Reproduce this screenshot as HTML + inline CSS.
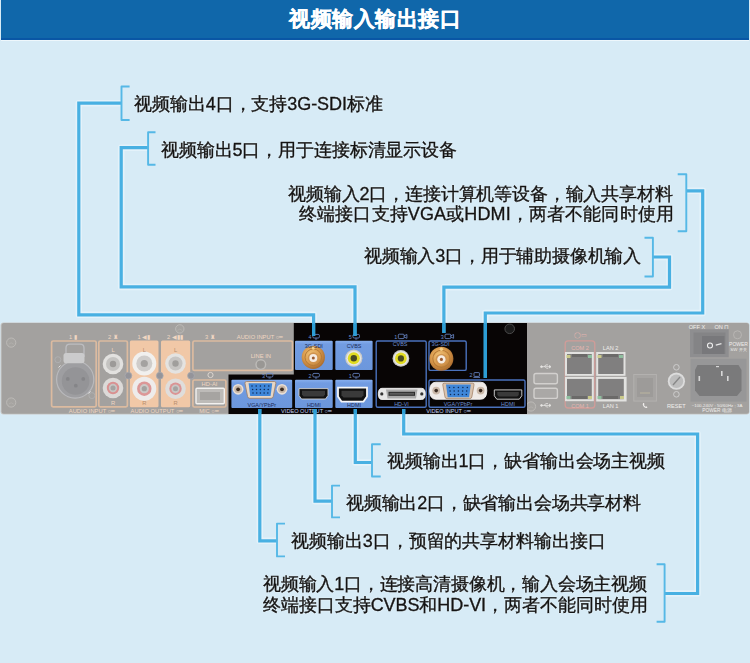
<!DOCTYPE html>
<html><head><meta charset="utf-8">
<style>
html,body{margin:0;padding:0}
body{width:750px;height:663px;overflow:hidden;position:relative;background:#d7ebf6;font-family:"Liberation Sans",sans-serif}
.t{position:absolute;font-size:18px;line-height:24px;color:#141414;white-space:nowrap;-webkit-text-stroke:0.35px #141414;text-shadow:0 0 1.2px #f4fafd,0 0 1.2px #f4fafd;will-change:transform}
#title{position:absolute;left:1px;top:0;width:748px;height:38px;background:#1067aa;border-bottom:2px solid #0956a5;box-shadow:0 1px 0 #eef7fc}
#title div{position:absolute;left:0;width:748px;top:6.3px;text-align:center;color:#fff;font-weight:bold;font-size:21.4px;line-height:26px;letter-spacing:0.55px;text-indent:0.55px;-webkit-text-stroke:0.3px #fff}
svg{position:absolute;left:0;top:0}
</style></head><body>
<div id="title"><div>视频输入输出接口</div></div>
<svg width="750" height="663" viewBox="0 0 750 663">
<defs><radialGradient id="gold" cx="0.42" cy="0.38" r="0.65"><stop offset="0" stop-color="#f3c77c"/><stop offset="0.55" stop-color="#d99a4c"/><stop offset="1" stop-color="#a8692c"/></radialGradient>
<linearGradient id="bluebox" x1="0" y1="0" x2="0" y2="1"><stop offset="0" stop-color="#88afee"/><stop offset="0.12" stop-color="#729ce2"/><stop offset="1" stop-color="#6c97dc"/></linearGradient></defs>
<g fill="none" stroke="#e4f2fa" stroke-width="6.5" stroke-linejoin="round">
<path d="M121 103.2H78.8V314.8H313.6V336"/>
<path d="M148 147.7H121.2V286.9H355V336"/>
<path d="M653 257H669.5V287.2H443.9V333"/>
<path d="M686 190.8H702.7V313H485.3V378"/>
<path d="M259.8 409V540.8H277"/>
<path d="M315 409V501.2H332"/>
<path d="M355.3 409V462.5H372"/>
<path d="M403.7 409V434H697.6V593.5H665"/>
</g>
<!-- device -->
<g id="dev">
<rect x="0.5" y="322.5" width="749" height="92" rx="3" fill="#c9c8c6"/>
<rect x="1.5" y="323" width="747.5" height="90.8" rx="2.5" fill="#a3a19f"/>
<!-- left screws -->
<g fill="#a6a4a1" stroke="#bebcb9" stroke-width="0.9">
<circle cx="11.2" cy="342.6" r="4.6"/><circle cx="11.2" cy="402.5" r="4.6"/>
<circle cx="179.8" cy="328.9" r="4.2"/>
<circle cx="531" cy="406.5" r="4.6"/>
</g>
<g stroke="#b4b2af" stroke-width="0.7" fill="none"><path d="M8.8 344.2Q11.2 341.5 13.6 344.2M8.8 404.1Q11.2 401.4 13.6 404.1M177.5 330.4Q179.8 327.9 182.1 330.4M528.6 408.1Q531 405.4 533.4 408.1"/></g>
<!-- tan outlines -->
<g fill="none" stroke="#dcbba0" stroke-width="1.7">
<rect x="51.6" y="341" width="44.6" height="65.8" rx="1.5"/>
<rect x="98.8" y="341" width="28.6" height="65.8" rx="1.5"/>
<rect x="192.9" y="341" width="99.6" height="29.4" rx="1.5"/>
<rect x="192.9" y="380" width="33" height="27" rx="1.5"/>
</g>
<g fill="#f1c8a7">
<rect x="129.9" y="340.6" width="28.6" height="66.6" rx="1.5"/>
<rect x="161" y="340.6" width="29.2" height="66.6" rx="1.5"/>
</g>
<!-- XLR -->
<path d="M66 357V348Q66 344.2 70 344.2H80Q84 344.2 84 348V357" fill="none" stroke="#bdbdc0" stroke-width="1.3"/>
<circle cx="75.2" cy="379.5" r="18.6" fill="#9e9ea1" stroke="#b9b9bc" stroke-width="1.2"/>
<circle cx="75.6" cy="381" r="13.8" fill="#949497"/>
<path d="M63.5 355.5Q63.5 353 66 353H82Q84.5 353 84.5 355.5V361Q84.5 363.2 82 363.2H66Q63.5 363.2 63.5 361Z" fill="#cbcbcc"/>
<circle cx="67.8" cy="378.9" r="1.9" fill="#858588"/><circle cx="83.3" cy="378.9" r="1.9" fill="#858588"/><circle cx="75.8" cy="385.7" r="1.9" fill="#858588"/>
<circle cx="57.9" cy="359.7" r="3" fill="none" stroke="#b1b1b3" stroke-width="0.8"/>
<circle cx="91.9" cy="395.6" r="3" fill="none" stroke="#b1b1b3" stroke-width="0.8"/>
<path d="M58.5 367.5L60.5 365.5M88.5 393.5L90.5 391.3" stroke="#e0e0e0" stroke-width="1"/>
<!-- RCA jacks audio -->
<g>
<circle cx="113" cy="364" r="10.3" fill="#e2e1df"/><circle cx="113" cy="364" r="7" fill="#c4c3c1"/><circle cx="113" cy="364" r="3.2" fill="#9c9a98"/>
<circle cx="113" cy="388" r="10.3" fill="#dcdad8"/><circle cx="113" cy="388" r="6.2" fill="#d99191"/><circle cx="113" cy="388" r="4.2" fill="#c7c5c3"/><circle cx="113" cy="388" r="2.5" fill="#a5a3a1"/>
<circle cx="144.3" cy="363.5" r="12" fill="#f1f0ee"/><circle cx="144.3" cy="363.5" r="8" fill="#cfcdcb"/><circle cx="144.3" cy="363.5" r="3.6" fill="#a4a2a0"/>
<circle cx="144.3" cy="388.7" r="12" fill="#eeeceb"/><circle cx="144.3" cy="388.7" r="7.2" fill="#dc9797"/><circle cx="144.3" cy="388.7" r="4.6" fill="#cbc9c7"/><circle cx="144.3" cy="388.7" r="2.6" fill="#a4a2a0"/>
<circle cx="175.5" cy="363.5" r="10.3" fill="#e4e3e1"/><circle cx="175.5" cy="363.5" r="7" fill="#c7c5c3"/><circle cx="175.5" cy="363.5" r="3.2" fill="#a09e9c"/>
<circle cx="175.5" cy="388.7" r="10.3" fill="#dfdddb"/><circle cx="175.5" cy="388.7" r="6.2" fill="#db9494"/><circle cx="175.5" cy="388.7" r="4.2" fill="#c9c7c5"/><circle cx="175.5" cy="388.7" r="2.5" fill="#a5a3a1"/>
</g>
<g fill="#94949a" stroke="#a9a9ae" stroke-width="0.8">
<circle cx="128.4" cy="375.7" r="3.4"/><circle cx="159.8" cy="375.7" r="3.4"/><circle cx="191" cy="375.7" r="3.4"/>
</g>
<!-- line in jack -->
<circle cx="260.8" cy="364.6" r="4.8" fill="#999794" stroke="#bdbbb8" stroke-width="1.4"/>
<!-- HD-AI usb -->
<rect x="196" y="388.3" width="28.3" height="15.5" rx="1" fill="#bdbbb8" stroke="#f2f1ef" stroke-width="1.4"/>
<rect x="200" y="392" width="20" height="8" fill="#a6a4a1"/>
<circle cx="210.5" cy="375" r="2.6" fill="none" stroke="#e8e0d8" stroke-width="0.8"/>
<!-- tan labels -->
<g font-family="Liberation Sans" font-size="5.8" fill="#efd6c2" text-anchor="middle">
<text x="73" y="339">1 ▮</text><text x="113" y="339">2 ♜</text><text x="144" y="339">1 ◀▮</text><text x="175" y="339">2 ◀▮▮</text><text x="210" y="339">3 ♜</text>
<text x="113" y="352">L</text><text x="113" y="404.5">R</text><g fill="#b98d6d"><text x="144.3" y="352">L</text><text x="144.3" y="404.5">R</text><text x="175.5" y="352">L</text><text x="175.5" y="404.5">R</text></g>
<text x="92" y="412.5">AUDIO  INPUT  ○━</text><text x="157" y="412.5">AUDIO  OUTPUT  ○━</text><text x="209" y="412.5">MIC  ○━</text>
<text x="260" y="338.5">AUDIO  INPUT  ○━</text><text x="260.8" y="357.5">LINE IN</text><text x="209.5" y="386">HD-AI</text>
</g>
</g>
<!-- black section -->
<path d="M293.8 323H527V414H228.5V374.6H293.8Z" fill="#080505"/>
<g fill="url(#bluebox)">
<rect x="295" y="340.7" width="37.7" height="29.4" rx="1"/>
<rect x="335.3" y="340.7" width="37.3" height="29.4" rx="1"/>
<rect x="231.4" y="379.7" width="60.8" height="28.2" rx="1"/>
<rect x="295" y="379.7" width="37.7" height="28.2" rx="1"/>
<rect x="335.3" y="379.7" width="37.3" height="28.2" rx="1"/>
</g>
<g fill="none" stroke="#4a72bd" stroke-width="1.4">
<rect x="376.2" y="341" width="50" height="66.2" rx="1.5"/>
<rect x="429" y="341" width="37.2" height="29.4" rx="1.5"/>
<rect x="429" y="380" width="96" height="27.2" rx="1.5"/>
</g>
<circle cx="509.7" cy="328.8" r="4.8" fill="#1a1a1a" stroke="#4a4a4a" stroke-width="1"/>
<!-- BNC out -->
<circle cx="313.3" cy="357.3" r="11.6" fill="url(#gold)"/>
<circle cx="313.3" cy="357.3" r="8.30" fill="none" stroke="#b57a36" stroke-width="1.00"/>
<circle cx="313.3" cy="348.10" r="1.60" fill="#f4cf86"/>
<circle cx="313.3" cy="357.90" r="5.60" fill="#d09450"/>
<circle cx="313.3" cy="357.90" r="4.00" fill="#f6ece2"/>
<circle cx="313.3" cy="357.90" r="1.50" fill="#9a5a30"/>
<!-- BNC in -->
<circle cx="441.4" cy="358.8" r="12" fill="url(#gold)"/>
<circle cx="441.4" cy="358.8" r="8.59" fill="none" stroke="#b57a36" stroke-width="1.03"/>
<circle cx="441.4" cy="349.28" r="1.66" fill="#f4cf86"/>
<circle cx="441.4" cy="359.42" r="5.79" fill="#d09450"/>
<circle cx="441.4" cy="359.42" r="4.14" fill="#f6ece2"/>
<circle cx="441.4" cy="359.42" r="1.55" fill="#9a5a30"/>
<!-- RCA yellow -->
<circle cx="353.8" cy="358.2" r="8.6" fill="#c9c9c7"/><circle cx="353.8" cy="358.2" r="7.4" fill="#e6e6e4"/><circle cx="353.8" cy="358.2" r="6" fill="#e2dc22"/><circle cx="353.8" cy="358.2" r="3.2" fill="#4a4a22"/>
<circle cx="400.9" cy="358.4" r="8.4" fill="#c9c9c7"/><circle cx="400.9" cy="358.4" r="7.2" fill="#e6e6e4"/><circle cx="400.9" cy="358.4" r="5.8" fill="#e2dc22"/><circle cx="400.9" cy="358.4" r="3.1" fill="#4a4a22"/>
<!-- VGA out -->
<circle cx="238.1" cy="389.3" r="5.4" fill="#e9dfd6"/><circle cx="238.1" cy="389.3" r="3.8" fill="#c8b6a6"/><circle cx="238.1" cy="389.3" r="1.9" fill="#3a2a20"/>
<circle cx="282" cy="389.3" r="5.4" fill="#e9dfd6"/><circle cx="282" cy="389.3" r="3.8" fill="#c8b6a6"/><circle cx="282" cy="389.3" r="1.9" fill="#3a2a20"/>
<path d="M246.5 381.5H274.3Q276.3 381.5 275.8 383.5L273.2 396.6Q272.8 398.3 271 398.3H249.8Q248 398.3 247.6 396.6L245 383.5Q244.6 381.5 246.5 381.5Z" fill="#e6d6c6" stroke="#a07e62" stroke-width="0.8"/>
<path d="M248.6 383.2H272.2L270.6 396H250.2Z" fill="#3f86d8"/>
<g fill="#0f2a55"><circle cx="252.0" cy="386.0" r="0.75"/><circle cx="256.2" cy="386.0" r="0.75"/><circle cx="260.4" cy="386.0" r="0.75"/><circle cx="264.6" cy="386.0" r="0.75"/><circle cx="268.8" cy="386.0" r="0.75"/><circle cx="252.6" cy="389.5" r="0.75"/><circle cx="256.5" cy="389.5" r="0.75"/><circle cx="260.4" cy="389.5" r="0.75"/><circle cx="264.3" cy="389.5" r="0.75"/><circle cx="268.2" cy="389.5" r="0.75"/><circle cx="253.0" cy="393.0" r="0.75"/><circle cx="256.7" cy="393.0" r="0.75"/><circle cx="260.4" cy="393.0" r="0.75"/><circle cx="264.1" cy="393.0" r="0.75"/><circle cx="267.8" cy="393.0" r="0.75"/></g>
<!-- VGA in -->
<path d="M436 382.2H480.5Q486.8 382.2 486.8 390.7Q486.8 399.3 480.5 399.3H436Q429.7 399.3 429.7 390.7Q429.7 382.2 436 382.2Z" fill="#efeae6" stroke="#ffffff" stroke-width="0.8"/>
<circle cx="436.2" cy="390.6" r="3.9" fill="#cbb9a9"/><circle cx="436.2" cy="390.6" r="1.8" fill="#3a2a20"/>
<circle cx="480.6" cy="390.6" r="3.9" fill="#cbb9a9"/><circle cx="480.6" cy="390.6" r="1.8" fill="#3a2a20"/>
<path d="M444.2 383.2H472.6Q474.4 383.2 474 385L471.8 397Q471.5 398.6 469.8 398.6H447Q445.3 398.6 445 397L442.8 385Q442.4 383.2 444.2 383.2Z" fill="#d9c3ae" stroke="#9c7a5e" stroke-width="0.7"/>
<path d="M446 384.6H470.8L469.1 397.3H447.7Z" fill="#3f86d8"/>
<g fill="#0f2a55"><circle cx="449.5" cy="387.6" r="0.75"/><circle cx="453.9" cy="387.6" r="0.75"/><circle cx="458.4" cy="387.6" r="0.75"/><circle cx="462.9" cy="387.6" r="0.75"/><circle cx="467.3" cy="387.6" r="0.75"/><circle cx="450.1" cy="391.0" r="0.75"/><circle cx="454.2" cy="391.0" r="0.75"/><circle cx="458.4" cy="391.0" r="0.75"/><circle cx="462.6" cy="391.0" r="0.75"/><circle cx="466.7" cy="391.0" r="0.75"/><circle cx="450.5" cy="394.4" r="0.75"/><circle cx="454.4" cy="394.4" r="0.75"/><circle cx="458.4" cy="394.4" r="0.75"/><circle cx="462.4" cy="394.4" r="0.75"/><circle cx="466.3" cy="394.4" r="0.75"/></g>
<!-- HDMI -->
<path d="M299 388.6H328V395.5L325.5 399H301.5L299 395.5Z" fill="#121212" stroke="#d0d0d0" stroke-width="0.9"/>
<path d="M302 390.8H325V394.5L323.5 396.4H303.5L302 394.5Z" fill="#3a3a3a"/>
<path d="M338 387.6H367V396.5L363.5 401.6H341.5L338 396.5Z" fill="#111" stroke="#f6f6f6" stroke-width="1.8"/>
<path d="M341.5 390.8H363.5V395.2L361.5 397.6H343.5L341.5 395.2Z" fill="#3a3a3a"/>
<path d="M494.3 389.9H521.8V395.8L519.3 399.2H496.8L494.3 395.8Z" fill="#121212" stroke="#d8d8d8" stroke-width="0.9"/>
<path d="M497.3 392H518.8V395L517.3 396.6H498.8L497.3 395Z" fill="#3a3a3a"/>
<!-- HD-VI -->
<path d="M382 388.3H421.5Q425.3 388.3 425.3 393.9Q425.3 399.5 421.5 399.5H382Q378.3 399.5 378.3 393.9Q378.3 388.3 382 388.3Z" fill="#e6e6e6" stroke="#fafafa" stroke-width="0.8"/>
<circle cx="381.8" cy="393.9" r="1.6" fill="#333"/><circle cx="421.8" cy="393.9" r="1.6" fill="#333"/>
<path d="M386 389.5H417.5L416 398.5H387.5Z" fill="#a9a9a9"/>
<path d="M388.5 391.8H415V395.8H388.5Z" fill="#2a2a2a"/>
<path d="M389.5 392.8H414V394.8H389.5Z" fill="#5a5a5a"/>
<!-- dark labels in blue boxes -->
<g font-family="Liberation Sans" font-size="5.4" fill="#1a2a55" text-anchor="middle">
<text x="313.8" y="347.5">3G-SDI</text><text x="354" y="347.5">CVBS</text>
<text x="261.8" y="406.5">VGA/YPbPr</text><text x="313.8" y="406.5">HDMI</text><text x="354" y="406.5">HDMI</text>
</g>
<g font-family="Liberation Sans" font-size="5.4" fill="#6d8fd0" text-anchor="middle">
<text x="400" y="346">CVBS</text><text x="440.5" y="346">3G-SDI</text>
<text x="401.5" y="406.3">HD-VI</text><text x="458" y="406.3">VGA/YPbPr</text><text x="508" y="406.3">HDMI</text>
<text x="310" y="339">4</text><text x="350.3" y="339">5</text><text x="263.5" y="378">3</text><text x="310" y="378">2</text><text x="350.3" y="378">1</text>
<text x="395.7" y="338.7">1</text><text x="442.3" y="338.7">3</text><text x="471" y="377">2</text>
</g>
<g font-family="Liberation Sans" font-size="5.6" fill="#c0d0ef" text-anchor="middle">
<text x="306.5" y="413">VIDEO  OUTPUT  ○━</text><text x="448.5" y="413">VIDEO  INPUT  ○━</text>
</g>
<g fill="none" stroke="#6f8ed0" stroke-width="0.8"><rect x="312.8" y="334.4" width="6.6" height="3.6" rx="1.2"/><path d="M315.0 339.0H317.2"/><rect x="352.9" y="334.4" width="6.6" height="3.6" rx="1.2"/><path d="M355.09999999999997 339.0H357.29999999999995"/><rect x="266.3" y="373.4" width="6.6" height="3.6" rx="1.2"/><path d="M268.5 378.0H270.7"/><rect x="312.8" y="373.4" width="6.6" height="3.6" rx="1.2"/><path d="M315.0 378.0H317.2"/><rect x="352.9" y="373.4" width="6.6" height="3.6" rx="1.2"/><path d="M355.09999999999997 378.0H357.29999999999995"/><rect x="398.3" y="334.2" width="5.8" height="4.4" rx="1"/><path d="M404.1 335.8L406.90000000000003 334.5V338.3L404.1 337.0"/><rect x="445" y="334.2" width="5.8" height="4.4" rx="1"/><path d="M450.8 335.8L453.6 334.5V338.3L450.8 337.0"/><rect x="474" y="372.6" width="5.4" height="3.8" rx="0.6"/><path d="M473.4 377.4H480"/></g>
<!-- right section -->
<g fill="#aaa8a6" stroke="#d2d0ce" stroke-width="1.4">
<rect x="534" y="373.5" width="23.4" height="10.2" rx="2"/>
<rect x="534" y="388.2" width="23.4" height="10.2" rx="2"/>
</g>
<rect x="565.2" y="340.8" width="29.6" height="67.2" rx="3" fill="none" stroke="#d19c98" stroke-width="1.3"/>
<g fill="#e2e2e0">
<rect x="565" y="352" width="28.8" height="23.8"/>
<rect x="565" y="376.9" width="28.8" height="24.3"/>
<rect x="596.2" y="352" width="29.3" height="23.8"/>
<rect x="596.2" y="376.9" width="30.4" height="24.6"/>
</g>
<g fill="#807f7f">
<rect x="567" y="354" width="24.8" height="20"/>
<rect x="567" y="378.9" width="24.8" height="20.3"/>
<rect x="598.2" y="354" width="25.3" height="20"/>
<rect x="598.2" y="378.9" width="25.6" height="20.3"/>
</g>
<g fill="#6b6a69"><rect x="572" y="354" width="15" height="3"/><rect x="603" y="354" width="15" height="3"/><rect x="572" y="396" width="15" height="3"/><rect x="603" y="396" width="15" height="3"/></g>
<g fill="#c9c98a"><rect x="566.5" y="355" width="4" height="3"/><rect x="620" y="396" width="4" height="3"/><rect x="588" y="396" width="4" height="3"/><rect x="597.5" y="355" width="4" height="3"/></g>
<g fill="#8fbf9f"><rect x="588" y="355" width="4" height="3"/><rect x="619" y="355" width="4" height="3"/><rect x="566.5" y="396" width="4" height="3"/><rect x="597.5" y="396" width="4" height="3"/></g>
<g transform="translate(545.5,366.7)" stroke="#e6e4e2" stroke-width="0.8" fill="none"><path d="M-4 0H4M-1.5 0L0.5 -1.8H2.5M-0.5 0L1 1.6H2.8"/><circle cx="-4" cy="0" r="0.9" fill="#e6e4e2"/><path d="M4 -1.2L5.5 0L4 1.2Z" fill="#e6e4e2"/></g><g transform="translate(545.5,405.4)" stroke="#e6e4e2" stroke-width="0.8" fill="none"><path d="M-4 0H4M-1.5 0L0.5 -1.8H2.5M-0.5 0L1 1.6H2.8"/><circle cx="-4" cy="0" r="0.9" fill="#e6e4e2"/><path d="M4 -1.2L5.5 0L4 1.2Z" fill="#e6e4e2"/></g>
<!-- phone jack -->
<rect x="633.8" y="374.5" width="22.6" height="26.6" fill="#a6a4a2" stroke="#b3b1af" stroke-width="1"/>
<rect x="637" y="378" width="16" height="19" fill="#9d9b99"/>
<rect x="640" y="392" width="10" height="2" fill="#aca89c"/>
<path d="M643 403.2Q642.2 404.5 643.6 406.4Q645.2 408.2 646.8 408Q647.6 407.6 647.3 407L646.2 406.2L645.4 406.7Q644.3 405.9 643.9 404.8L644.6 404.2L643.9 403Q643.4 402.8 643 403.2Z" fill="#f0eeec"/>
<!-- reset -->
<circle cx="676.4" cy="381.2" r="8.6" fill="#dcdcdc"/>
<circle cx="676.4" cy="381.2" r="6.8" fill="#bdbdbd"/>
<path d="M673 385L680 377" stroke="#888" stroke-width="1.3"/>
<circle cx="676.4" cy="367.3" r="2.8" fill="none" stroke="#d0d0d0" stroke-width="0.9"/>
<circle cx="676.4" cy="394.3" r="2.8" fill="none" stroke="#d0d0d0" stroke-width="0.9"/>
<!-- power switch -->
<rect x="690" y="329.3" width="38.7" height="27.9" fill="#8e8e90"/>
<rect x="693.5" y="332.5" width="32" height="21.5" fill="#848486"/><rect x="702" y="336" width="22.5" height="18" fill="#78787b"/>
<circle cx="710" cy="345.5" r="2.5" fill="none" stroke="#f0f0f0" stroke-width="1.1"/>
<path d="M715.8 345.2L721.5 343.6" stroke="#e8e8e8" stroke-width="1.2"/>
<circle cx="737.5" cy="334.8" r="4" fill="none" stroke="#bcbab8" stroke-width="0.8"/>
<!-- power inlet -->
<rect x="690.5" y="358.7" width="56" height="42.9" fill="#979798"/>
<path d="M697.5 365.1H738.5L741.5 370V390.5L737 395.9H699.5L695 390.5V370Z" fill="#7a7a7b"/>
<g fill="#d8d8d8"><rect x="698.5" y="376" width="1.6" height="5"/><rect x="721" y="371" width="1.6" height="5"/><rect x="727" y="376" width="1.6" height="5"/><rect x="716" y="366" width="3" height="1.2"/></g>
<g font-family="Liberation Sans" font-size="5.6" fill="#f0eeec" text-anchor="middle">

<text x="610.6" y="350">LAN 2</text><text x="610.6" y="407.5">LAN 1</text>
<text x="676.4" y="407.5">RESET</text>
<text x="697" y="328.8">OFF X</text><text x="722" y="328.8">ON ⊓</text>
<text x="738.5" y="345.5" font-size="5">POWER</text><text x="738.5" y="350.5" font-size="4.4">SW 开关</text>
<text x="717" y="407" font-size="4.4">~100-240V ; 50/60Hz ; 3A</text><text x="717" y="412.3" font-size="4.8">POWER 电源</text>
</g>
<g font-family="Liberation Sans" font-size="5.6" fill="#e6b5b0" text-anchor="middle">
<text x="580" y="350">COM 2</text><text x="580" y="407.5">COM 1</text><text x="580.2" y="337">◯▭</text>
</g>

<!-- connector lines -->

<g fill="none" stroke="#48b0e2" stroke-width="3.2">
<path d="M121 103.2H78.8V314.8H313.6V336"/>
<path d="M148 147.7H121.2V286.9H355V336"/>
<path d="M653 257H669.5V287.2H443.9V333"/>
<path d="M686 190.8H702.7V313H485.3V378"/>
<path d="M259.8 409V540.8H277"/>
<path d="M315 409V501.2H332"/>
<path d="M355.3 409V462.5H372"/>
<path d="M403.7 409V434H697.6V593.5H665"/>
</g>
<g stroke="#2c9ed6" stroke-width="3.2" fill="none"><path d="M313.6 323.5V336M355 323.5V336M443.9 323.5V333M485.3 323.5V378M259.8 409V413.5M315 409V413.5M355.3 409V413.5M403.7 409V413.5"/></g>
<g fill="none" stroke="#55b8e6" stroke-width="1.9" stroke-linejoin="round">
<path d="M129.6 86.5H121.5V120H129.6"/>
<path d="M155.5 132.3H148.1V164.7H155.5"/>
<path d="M677.7 174.3H686.3V231.2H677.7"/>
<path d="M644.5 237.7H652.9V276.5H644.5"/>
<path d="M380.7 444.3H372V476.5H380.7"/>
<path d="M340 485.6H332V517.4H340"/>
<path d="M285 523.6H277V556.4H285"/>
<path d="M656.6 564.2H664.6V621.7H656.6"/>
</g>
</svg>
<div class="t" id="t1" style="left:134.0px;top:92.2px;letter-spacing:-0.08px">视频输出4口，支持3G-SDI标准</div>
<div class="t" id="t2" style="left:161.2px;top:138.2px;letter-spacing:-0.12px">视频输出5口，用于连接标清显示设备</div>
<div class="t" id="t3" style="left:288.2px;top:182.0px;letter-spacing:-0.15px">视频输入2口，连接计算机等设备，输入共享材料</div>
<div class="t" id="t4" style="left:298.6px;top:202.4px;letter-spacing:0.13px">终端接口支持VGA或HDMI，两者不能同时使用</div>
<div class="t" id="t5" style="left:364.2px;top:244.2px;letter-spacing:-0.18px">视频输入3口，用于辅助摄像机输入</div>
<div class="t" id="t6" style="left:386.6px;top:449.0px;letter-spacing:-0.13px">视频输出1口，缺省输出会场主视频</div>
<div class="t" id="t7" style="left:346.2px;top:491.0px;letter-spacing:-0.19px">视频输出2口，缺省输出会场共享材料</div>
<div class="t" id="t8" style="left:291.0px;top:529.0px;letter-spacing:-0.06px">视频输出3口，预留的共享材料输出接口</div>
<div class="t" id="t9" style="left:263.0px;top:572.2px;letter-spacing:-0.19px">视频输入1口，连接高清摄像机，输入会场主视频</div>
<div class="t" id="t10" style="left:263.0px;top:593.0px;letter-spacing:-0.06px">终端接口支持CVBS和HD-VI，两者不能同时使用</div>
</body></html>
